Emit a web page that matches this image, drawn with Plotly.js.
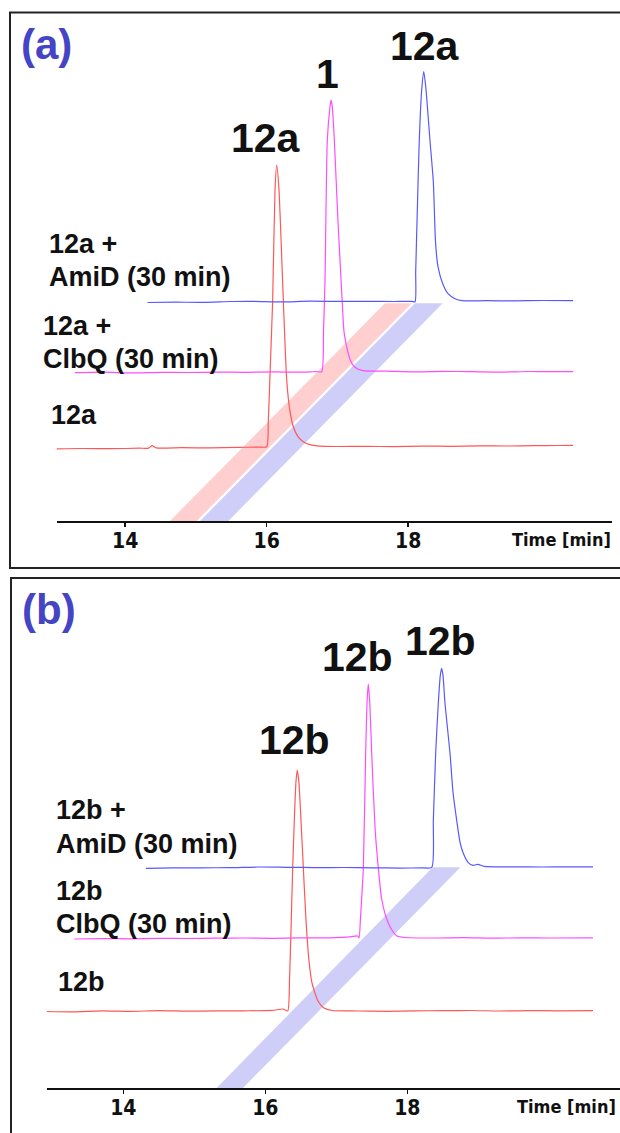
<!DOCTYPE html>
<html>
<head>
<meta charset="utf-8">
<script src="https://cdn.plot.ly/plotly-3.0.1.min.js"></script>
<style>html,body{margin:0;padding:0;background:#fff;}#chart{width:620px;height:1133px;}</style>
</head>
<body>
<div id="chart"></div>
<script>
// ---------- Panel (a) data: retention time [min] and detector signal (relative) ----------
const tickVals = [14, 16, 18];
const traceNames = ["12a", "12a + ClbQ (30 min)", "12a + AmiD (30 min)"];
const offsetsA = [0, 75, 145];
const offsetsB = [0, 73, 143.7];

const tA_red = [13.03, 13.4, 13.8, 14.2, 14.33, 14.38, 14.44, 14.8, 15.2, 15.6, 15.9, 16.001, 16.023, 16.051, 16.085, 16.118, 16.142, 16.174, 16.235, 16.283, 16.33, 16.377, 16.443, 16.518, 16.613, 16.754, 17.0, 17.4, 17.8, 18.2, 18.6, 19.0, 19.4, 19.8, 20.1, 20.33];
const yA_red = [-2.2, -1.8, -2.0, -1.5, -1.4, 1.0, -1.2, -1.0, -1.2, -0.6, -0.4, 0, 25, 80, 147, 257, 281.7, 257, 147, 67, 35, 20, 10, 5, 2, 0.5, 0.2, 0.3, 0.1, 0.6, 0.4, 0.8, 0.7, 1.0, 1.2, 1.3];

const tA_mag = [13.29, 13.7, 14.1, 14.5, 14.9, 15.3, 15.7, 16.1, 16.5, 16.7, 16.778, 16.803, 16.824, 16.857, 16.895, 16.909, 16.927, 16.956, 17.008, 17.06, 17.093, 17.131, 17.178, 17.248, 17.361, 17.7, 18.1, 18.5, 18.9, 19.3, 19.7, 20.0, 20.33];
const yA_mag = [-1.0, -0.5, -1.2, -0.6, -0.8, -0.4, -0.6, -0.2, -0.5, 0.2, 0, 40, 90, 232, 265, 271.7, 265, 232, 150, 80, 40, 25, 12, 4.4, 1, 0.5, -0.2, 0.3, 0, -0.4, 0.2, 0, 0.1];

const tA_blue = [14.315, 14.7, 15.1, 15.5, 15.8, 16.2, 16.6, 17.0, 17.4, 17.8, 18.05, 18.097, 18.106, 18.132, 18.157, 18.191, 18.22, 18.252, 18.309, 18.355, 18.386, 18.421, 18.488, 18.563, 18.662, 18.761, 19.1, 19.5, 19.9, 20.33];
const yA_blue = [-0.8, -0.5, -0.6, 0.2, 0.4, -0.2, 0.5, 0.3, 0.4, 0.2, 0.3, 0, 30, 100, 162, 212, 230, 212, 160, 120, 60, 35, 18, 8, 3, 1, 1.0, 0.8, 1.2, 1.0];

// diagonal guide bands (a)
const bandA_red_t = [14.634, 15.011, 18.05, 17.672, 14.634];
const bandA_red_y = [-74.3, -74.3, 143.4, 143.4, -74.3];
const bandA_blue_t = [15.058, 15.458, 18.488, 18.097, 15.058];
const bandA_blue_y = [-74.3, -74.3, 143.4, 143.4, -74.3];

// ---------- Panel (b) data ----------
const tB_red = [12.92, 13.3, 13.7, 14.1, 14.5, 14.9, 15.3, 15.7, 16.1, 16.25, 16.316, 16.341, 16.362, 16.386, 16.409, 16.433, 16.451, 16.472, 16.503, 16.536, 16.574, 16.616, 16.658, 16.742, 16.827, 16.94, 17.3, 17.7, 18.1, 18.5, 18.9, 19.3, 19.7, 20.1, 20.616];
const yB_red = [-0.5, -0.8, 0.2, -0.3, 0.3, -0.2, 0.1, 0.2, 0.6, 2, 0, 30, 80, 143, 191, 230, 241, 230, 191, 143, 90, 50, 28, 10, 3, 0.5, 0, -0.3, 0.2, 0.3, 0.5, 0.0, 0.4, 0.2, 0.3];

const tB_mag = [13.31, 13.7, 14.1, 14.5, 14.9, 15.3, 15.7, 16.1, 16.5, 16.9, 17.2, 17.3, 17.32, 17.341, 17.362, 17.381, 17.414, 17.433, 17.451, 17.472, 17.499, 17.546, 17.592, 17.637, 17.692, 17.775, 17.855, 17.968, 18.4, 18.8, 19.2, 19.6, 20.0, 20.616];
const yB_mag = [-1.0, -0.6, -0.8, -0.3, -0.5, -0.2, 0, -0.3, 0.1, 0.2, 1.2, 2, 0, 20, 45, 70, 185, 235, 254, 235, 185, 110, 70, 40, 23, 9, 2, 0.5, 0, 0.3, -0.2, 0.2, 0, 0.2];

const tB_blue = [14.32, 14.7, 15.1, 15.5, 15.9, 16.3, 16.7, 17.1, 17.5, 17.9, 18.2, 18.344, 18.367, 18.4, 18.437, 18.465, 18.484, 18.503, 18.531, 18.602, 18.644, 18.696, 18.743, 18.789, 18.855, 18.926, 18.996, 19.081, 19.5, 19.9, 20.3, 20.616];
const yB_blue = [-1.0, -0.6, -0.5, -0.4, 0.3, 0, -0.3, -0.2, -0.5, -0.8, -0.5, 0, 47, 114, 164, 192, 199, 192, 164, 114, 75, 47, 25, 14, 5, 2, 3, 1, 0.5, 0.3, 0.5, 0.5];

const bandB_blue_t = [15.315, 15.686, 18.75, 18.359, 15.315];
const bandB_blue_y = [-77, -77, 143.7, 143.7, -77];

// ---------- styles ----------
const RED = "#ff5656", MAG = "#ff4cff", BLUE = "#5858ff";
const BAND_RED = "rgba(255,175,175,0.6)", BAND_BLUE = "rgba(165,165,242,0.55)";
const W = 620, H = 1133;
const px = v => v / W, py = v => 1 - v / H;

function line(t, y, off, color, xa, ya) {
  return {x: t, y: y.map(v => v + off), type: "scatter", mode: "lines",
    line: {color: color, width: 1.2, shape: "spline", smoothing: 0.6}, xaxis: xa, yaxis: ya, hoverinfo: "skip"};
}
function band(t, y, color, xa, ya) {
  return {x: t, y: y, type: "scatter", mode: "lines", fill: "toself", fillcolor: color,
    line: {width: 0, color: color}, xaxis: xa, yaxis: ya, hoverinfo: "skip"};
}

const data = [
  band(bandA_red_t, bandA_red_y, BAND_RED, "x", "y"),
  band(bandA_blue_t, bandA_blue_y, BAND_BLUE, "x", "y"),
  band(bandB_blue_t, bandB_blue_y, BAND_BLUE, "x2", "y2"),
  line(tA_red, yA_red, offsetsA[0], RED, "x", "y"),
  line(tA_mag, yA_mag, offsetsA[1], MAG, "x", "y"),
  line(tA_blue, yA_blue, offsetsA[2], BLUE, "x", "y"),
  line(tB_red, yB_red, offsetsB[0], RED, "x2", "y2"),
  line(tB_mag, yB_mag, offsetsB[1], MAG, "x2", "y2"),
  line(tB_blue, yB_blue, offsetsB[2], BLUE, "x2", "y2")
];

const condensed = "'DejaVu Sans Condensed', 'Roboto Condensed', 'Liberation Sans', sans-serif";
const tickFont = {family: condensed, size: 21, color: "#111", weight: "bold"};
function xAxis(domain, range, anchor) {
  return {domain: domain, range: range, anchor: anchor, showline: true, linewidth: 2.2, linecolor: "#111",
    ticks: "outside", ticklen: 4, tickwidth: 1.5, tickcolor: "#111", tickvals: tickVals,
    ticklabelstandoff: -4,
    tickfont: tickFont, showgrid: false, zeroline: false, fixedrange: true};
}
function yAxis(domain, range) {
  return {domain: domain, range: range, visible: false, showgrid: false, zeroline: false, fixedrange: true};
}

const sans = "'Liberation Sans', Arial, sans-serif";
const lab = {family: sans, size: 27, color: "#111", weight: "bold"};
const peak = {family: sans, size: 41, color: "#111", weight: "bold"};
const panel = {family: sans, size: 42, color: "#4444c4", weight: "bold"};
const timeFont = {family: condensed, size: 18, color: "#111", weight: "bold"};

function ann(text, x, y, font, xanchor) {
  return {text: text, x: px(x), y: py(y), xref: "paper", yref: "paper", showarrow: false,
    xanchor: xanchor || "center", yanchor: "middle", font: font};
}

const annotations = [
  ann("(a)", 46, 45, panel),
  ann("12a", 266, 138, peak),
  ann("1", 327, 74, peak),
  ann("12a", 425, 46, peak),
  ann("12a +", 47, 244, lab, "left"),
  ann("AmiD (30 min)", 47, 277, lab, "left"),
  ann("12a +", 41, 326, lab, "left"),
  ann("ClbQ (30 min)", 41, 359, lab, "left"),
  ann("12a", 49, 415, lab, "left"),
  ann("Time [min]", 613, 539, timeFont, "right"),

  ann("(b)", 49, 609, panel),
  ann("12b", 294, 740, peak),
  ann("12b", 357, 657, peak),
  ann("12b", 440, 641, peak),
  ann("12b +", 54, 810, lab, "left"),
  ann("AmiD (30 min)", 54, 844, lab, "left"),
  ann("12b", 54, 891, lab, "left"),
  ann("ClbQ (30 min)", 54, 924, lab, "left"),
  ann("12b", 56, 982, lab, "left"),
  ann("Time [min]", 618, 1106, timeFont, "right")
];

const shapes = [
  {type: "rect", xref: "paper", yref: "paper", x0: px(10), x1: 1.2, y0: py(568), y1: py(12.5),
   line: {color: "#222", width: 2}, fillcolor: "rgba(0,0,0,0)"},
  {type: "rect", xref: "paper", yref: "paper", x0: px(11), x1: 1.2, y0: -0.2, y1: py(578),
   line: {color: "#222", width: 2}, fillcolor: "rgba(0,0,0,0)"}
];

const layout = {
  width: W, height: H, margin: {l: 0, r: 0, t: 0, b: 0}, paper_bgcolor: "#fff", plot_bgcolor: "rgba(0,0,0,0)",
  showlegend: false,
  xaxis: xAxis([px(56.5), px(612)], [13.03, 20.88], "y"),
  yaxis: yAxis([py(521), py(20)], [-74.3, 426.7]),
  xaxis2: xAxis([px(46.6), 1], [12.92, 20.996], "y2"),
  yaxis2: yAxis([py(1088), py(590)], [-77, 421]),
  annotations: annotations,
  shapes: shapes
};

Plotly.newPlot("chart", data, layout, {displayModeBar: false, staticPlot: true});
</script>
</body>
</html>
